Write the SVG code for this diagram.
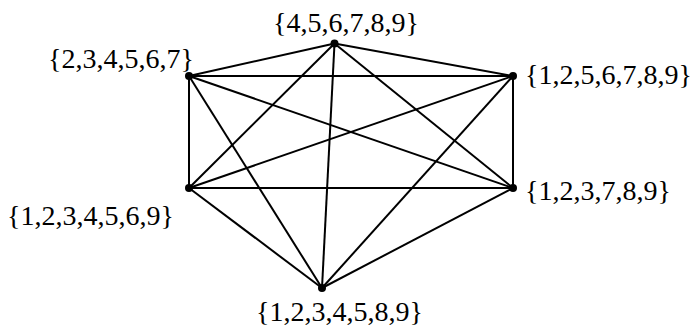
<svg xmlns="http://www.w3.org/2000/svg" width="694" height="330" viewBox="0 0 694 330">
<style>
.e{stroke:#000;stroke-width:2;fill:none}
.n{fill:#000}
.t{font-family:"Liberation Serif","Times New Roman",serif;font-size:28px;fill:#000}
</style>
<rect width="694" height="330" fill="#fff"/>
<g id="edges">
<line class="e" x1="334.5" y1="43.5" x2="189" y2="76"/>
<line class="e" x1="334.5" y1="43.5" x2="513" y2="76"/>
<line class="e" x1="334.5" y1="43.5" x2="189" y2="188"/>
<line class="e" x1="334.5" y1="43.5" x2="513" y2="188"/>
<line class="e" x1="334.5" y1="43.5" x2="322" y2="288"/>
<line class="e" x1="189" y1="76" x2="513" y2="76"/>
<line class="e" x1="189" y1="76" x2="189" y2="188"/>
<line class="e" x1="189" y1="76" x2="513" y2="188"/>
<line class="e" x1="189" y1="76" x2="322" y2="288"/>
<line class="e" x1="513" y1="76" x2="189" y2="188"/>
<line class="e" x1="513" y1="76" x2="513" y2="188"/>
<line class="e" x1="513" y1="76" x2="322" y2="288"/>
<line class="e" x1="189" y1="188" x2="513" y2="188"/>
<line class="e" x1="189" y1="188" x2="322" y2="288"/>
<line class="e" x1="513" y1="188" x2="322" y2="288"/>
</g>
<g id="n1"><circle class="n" cx="334.5" cy="43.5" r="4"/><text class="t" x="273" y="32">{4,5,6,7,8,9}</text></g>
<g id="n2"><circle class="n" cx="189" cy="76" r="4"/><text class="t" x="48" y="68">{2,3,4,5,6,7}</text></g>
<g id="n3"><circle class="n" cx="513" cy="76" r="4"/><text class="t" x="525" y="84">{1,2,5,6,7,8,9}</text></g>
<g id="n4"><circle class="n" cx="189" cy="188" r="4"/><text class="t" x="7" y="225">{1,2,3,4,5,6,9}</text></g>
<g id="n5"><circle class="n" cx="513" cy="188" r="4"/><text class="t" x="525" y="200">{1,2,3,7,8,9}</text></g>
<g id="n6"><circle class="n" cx="322" cy="288" r="4"/><text class="t" x="256" y="321">{1,2,3,4,5,8,9}</text></g>
</svg>
